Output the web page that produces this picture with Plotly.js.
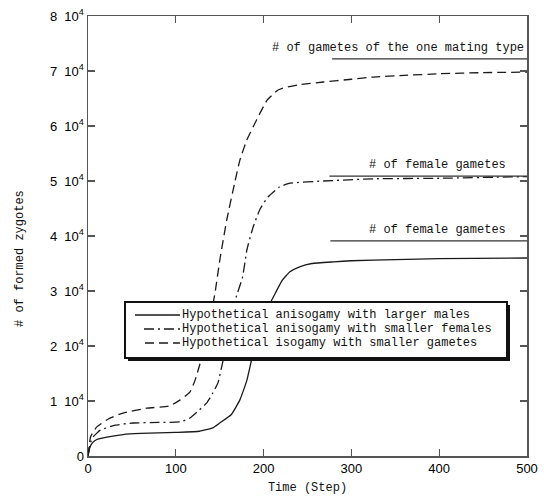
<!DOCTYPE html>
<html>
<head>
<meta charset="utf-8">
<script src="https://cdn.plot.ly/plotly-3.0.1.min.js"></script>
<style>html,body{margin:0;padding:0;background:#fff;}#chart{width:544px;height:501px;}</style>
</head>
<body>
<div id="chart"></div>
<script>
// ---- data ----
var seriesNames = [
  "Hypothetical anisogamy with larger males",
  "Hypothetical anisogamy with smaller females",
  "Hypothetical isogamy with smaller gametes"
];
var stepsMale = [0,2,5,10,20,40,60,100,127,142,150,163,173,181,187,195,205,214,221,230,241,255,280,300,350,400,500];
var zygMale   = [0,1500,2400,3000,3400,3900,4100,4300,4500,5100,6000,7500,10200,13800,18000,22800,27000,29800,31900,33500,34400,35000,35300,35500,35700,35900,36000];
var stepsFem  = [0,3,6,14,31,51,80,105,116,127,135,142,148,154,162,168,176,181,188,196,205,218,230,268,325,401,500];
var zygFem    = [0,2500,3500,4700,5600,6000,6100,6200,6900,8400,9600,11400,13300,17500,23500,28500,32500,37500,41600,44900,47100,48900,49600,50000,50400,50500,50800];
var stepsIso  = [0,3,10,25,40,67,93,105,116,122,128,135,140,145,150,158,167,173,181,192,204,216,222,240,268,300,325,360,401,450,500];
var zygIso    = [0,3500,5300,6900,7800,8700,9100,10200,11600,13800,17000,21000,25500,30000,35500,42900,49600,53800,57500,61100,64700,66500,66900,67500,68000,68500,68900,69200,69500,69700,69800];

var refLabels = ["# of gametes of the one mating type", "# of female gametes", "# of female gametes"];
var refLevels = [72200, 50900, 39100];
var refStart  = [278, 275, 276];
var refEnd    = 500;
var refLabelX = [498, 477, 477];

var yTickVals = [0,10000,20000,30000,40000,50000,60000,70000,80000];
var yTickText = ["0","1\u00a0 10<sup>4</sup>","2\u00a0 10<sup>4</sup>","3\u00a0 10<sup>4</sup>","4\u00a0 10<sup>4</sup>",
                 "5\u00a0 10<sup>4</sup>","6\u00a0 10<sup>4</sup>","7\u00a0 10<sup>4</sup>","8\u00a0 10<sup>4</sup>"];
var xTickVals = [0,100,200,300,400,500];

// ---- styles ----
var ink = "#1a1a1a";
var dashes = ["solid", "10px,4px,2px,4px", "9px,5px"];
var mono = "Liberation Mono, DejaVu Sans Mono, monospace";

var traces = [
  {x: stepsMale, y: zygMale, name: seriesNames[0]},
  {x: stepsFem,  y: zygFem,  name: seriesNames[1]},
  {x: stepsIso,  y: zygIso,  name: seriesNames[2]}
].map(function(t, i){
  t.type = "scatter"; t.mode = "lines";
  t.line = {color: ink, width: 1.3, dash: dashes[i], shape: "spline", smoothing: 0.4};
  t.showlegend = false; t.hoverinfo = "skip";
  return t;
});

// reference level lines
refLevels.forEach(function(v, i){
  traces.push({type: "scatter", mode: "lines", x: [refStart[i], refEnd], y: [v, v],
    line: {color: "#333", width: 1.2}, showlegend: false, hoverinfo: "skip"});
});

// pixel->paper helpers for the hand-drawn legend box
var L = 88, R = 17, T = 16, B = 45, W = 544, H = 501;
var pw = W - L - R, ph = H - T - B;
function px(x){ return (x - L) / pw; }
function py(y){ return (H - B - y) / ph; }

var shapes = [];
var annotations = [];

// legend shadow + box
shapes.push({type: "rect", xref: "paper", yref: "paper", x0: px(128), x1: px(510), y0: py(361), y1: py(305),
  fillcolor: "#111", line: {width: 0}, layer: "above"});
shapes.push({type: "rect", xref: "paper", yref: "paper", x0: px(125), x1: px(507), y0: py(358), y1: py(302),
  fillcolor: "#fff", line: {color: "#111", width: 2}, layer: "above"});
var rowsY = [315, 329, 343];
var lineStart = [135, 144, 145];
seriesNames.forEach(function(n, i){
  shapes.push({type: "line", xref: "paper", yref: "paper", x0: px(lineStart[i]), x1: px(180), y0: py(rowsY[i]), y1: py(rowsY[i]),
    line: {color: ink, width: 1.3, dash: dashes[i]}, layer: "above"});
  annotations.push({xref: "paper", yref: "paper", x: px(181), y: py(rowsY[i]), xanchor: "left", yanchor: "middle",
    text: n, showarrow: false, font: {family: mono, size: 12, color: "#111"}, borderpad: 0});
});

// reference labels
refLabels.forEach(function(t, i){
  annotations.push({xref: "x", yref: "y", x: refLabelX[i], y: refLevels[i], xanchor: "right", yanchor: "bottom",
    yshift: 3, text: t, showarrow: false, font: {family: mono, size: 12, color: "#111"}, borderpad: 0});
});

// y axis title as annotation (placed as in reference)
annotations.push({xref: "paper", yref: "paper", x: px(20), y: py(259), xanchor: "center", yanchor: "middle",
  text: "# of formed zygotes", textangle: -90, showarrow: false, font: {family: mono, size: 12, color: "#111"}});

var axisCommon = {
  showline: true, linecolor: "#555", linewidth: 1.5, mirror: "ticks",
  ticks: "inside", ticklen: 7, tickwidth: 1.2, tickcolor: "#555",
  showgrid: false, zeroline: false,
  tickfont: {family: "Liberation Sans, Arial, sans-serif", size: 13, color: "#000"}
};

var layout = {
  width: W, height: H,
  margin: {l: L, r: R, t: T, b: B, pad: 0},
  paper_bgcolor: "#fff", plot_bgcolor: "#fff",
  showlegend: false,
  xaxis: Object.assign({}, axisCommon, {
    range: [0, 500], tickvals: xTickVals, ticktext: xTickVals.map(String),
    title: {text: "Time (Step)", font: {family: mono, size: 12, color: "#111"}, standoff: 7}
  }),
  yaxis: Object.assign({}, axisCommon, {
    range: [0, 80000], tickvals: yTickVals, ticktext: yTickText
  }),
  shapes: shapes,
  annotations: annotations
};

Plotly.newPlot("chart", traces, layout, {staticPlot: true, displayModeBar: false});
</script>
</body>
</html>
